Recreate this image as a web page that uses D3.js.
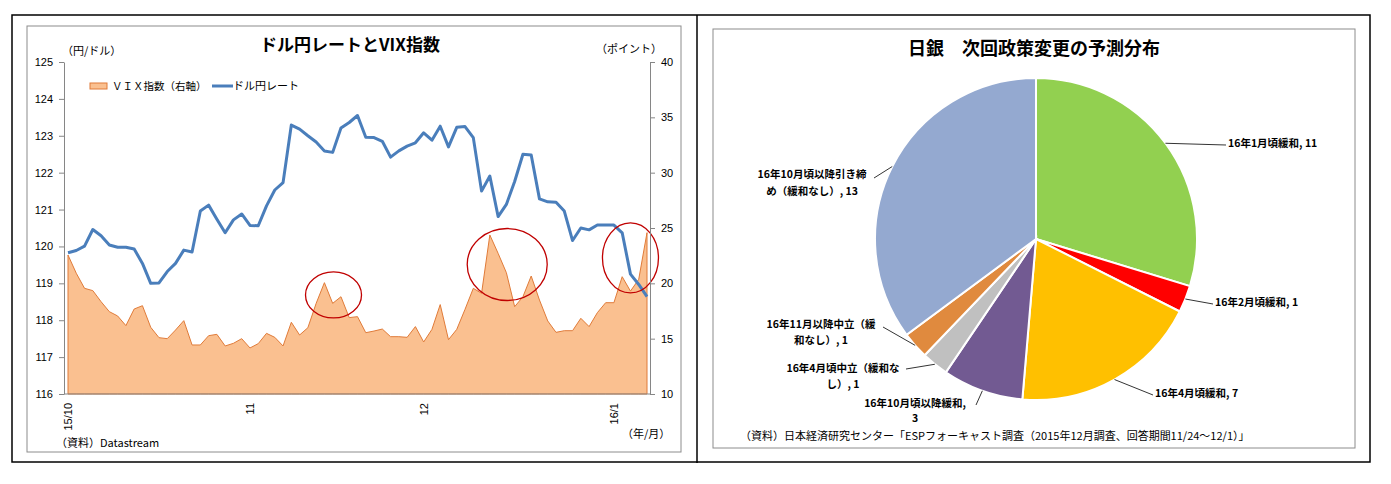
<!DOCTYPE html>
<html>
<head>
<meta charset="utf-8">
<script src="https://cdn.jsdelivr.net/npm/d3@7"></script>
<style>
  body { margin: 0; background: #fff; }
  svg { display: block; font-family: "Noto Sans CJK JP", "Noto Sans", sans-serif; }
</style>
</head>
<body>
<svg id="chart" width="1391" height="484"></svg>
<script>
// ---------------- data ----------------
// daily values, 2015/10/1 .. 2016/1/7 (business days)
const usdJpy = [119.83, 119.89, 120.01, 120.46, 120.29, 120.04, 119.98, 119.98, 119.93, 119.54,
                119.00, 119.01, 119.32, 119.54, 119.90, 119.85, 120.96, 121.12, 120.74, 120.37,
                120.72, 120.88, 120.57, 120.56, 121.10, 121.53, 121.73, 123.29, 123.18, 123.00,
                122.83, 122.59, 122.55, 123.21, 123.36, 123.55, 122.96, 122.95, 122.85, 122.42,
                122.59, 122.72, 122.81, 123.08, 122.88, 123.26, 122.70, 123.23, 123.25, 122.95,
                121.50, 121.91, 120.81, 121.14, 121.76, 122.50, 122.48, 121.29, 121.21, 121.20,
                120.96, 120.16, 120.50, 120.45, 120.58, 120.58, 120.58, 120.37, 119.25, 118.97, 118.64];
const vix = [22.56, 20.91, 19.55, 19.34, 18.34, 17.44, 17.05, 16.18, 17.68, 17.98,
             16.03, 15.09, 15.00, 15.78, 16.63, 14.43, 14.43, 15.27, 15.39, 14.34,
             14.58, 15.00, 14.16, 14.55, 15.48, 15.12, 14.34, 16.48, 15.33, 15.99,
             18.19, 20.06, 18.19, 18.79, 16.90, 16.99, 15.54, 15.69, 15.87, 15.18,
             15.18, 15.12, 16.09, 14.70, 15.84, 18.08, 14.91, 15.84, 17.65, 19.55,
             19.10, 24.37, 22.71, 20.96, 17.89, 18.79, 20.66, 18.49, 16.60, 15.57,
             15.72, 15.72, 16.84, 16.09, 17.35, 18.25, 18.25, 20.60, 19.30, 20.36, 24.58];
const tickIndex = [0, 22, 43, 66];
const tickLabels = ["15/10", "11", "12", "16/1"];
const yenTicks = [116, 117, 118, 119, 120, 121, 122, 123, 124, 125];
const vixTicks = [10, 15, 20, 25, 30, 35, 40];
// red circles: centre as (day index, VIX value)
const circleIndex = [32.1, 53.1, 68.0];
const circleVix = [18.95, 21.7, 22.3];

const pieLabels = ["16年1月頃緩和", "16年2月頃緩和", "16年4月頃緩和", "16年10月頃以降緩和",
                   "16年4月頃中立（緩和なし）", "16年11月以降中立（緩和なし）", "16年10月頃以降引き締め（緩和なし）"];
const pieValues = [11, 1, 7, 3, 1, 1, 13];
const pieColors = ["#92D050", "#FF0000", "#FFC000", "#725A92", "#C0C0C0", "#E08A3E", "#94A9D0"];

// ---------------- frame ----------------
const svg = d3.select("#chart");

svg.append("rect").attr("x", 12).attr("y", 15).attr("width", 1358).attr("height", 447)
    .attr("fill", "none").attr("stroke", "#000").attr("stroke-width", 1.5);
svg.append("line").attr("x1", 697).attr("x2", 697).attr("y1", 15).attr("y2", 463)
    .attr("stroke", "#000").attr("stroke-width", 1.5);
svg.append("rect").attr("x", 27).attr("y", 26).attr("width", 654).attr("height", 426)
    .attr("fill", "none").attr("stroke", "#8c8c8c");
svg.append("rect").attr("x", 713).attr("y", 29).attr("width", 642).attr("height", 419)
    .attr("fill", "none").attr("stroke", "#8c8c8c");

// ---------------- left: USD/JPY and VIX ----------------
const x = d3.scaleLinear().domain([0, usdJpy.length - 1]).range([68, 647]);
const yL = d3.scaleLinear().domain([116, 125]).range([394, 62]);
const yR = d3.scaleLinear().domain([10, 40]).range([394, 62]);

const left = svg.append("g");

const area = d3.area()
    .x((d, i) => x(i))
    .y0(yR(10))
    .y1(d => yR(d));
left.append("path")
    .datum(vix)
    .attr("d", area)
    .attr("fill", "#FAC090")
    .attr("stroke", "#E07B39")
    .attr("stroke-width", 1);

const line = d3.line()
    .x((d, i) => x(i))
    .y(d => yL(d));
left.append("path")
    .datum(usdJpy)
    .attr("d", line)
    .attr("fill", "none")
    .attr("stroke", "#4A7EBB")
    .attr("stroke-width", 3)
    .attr("stroke-linejoin", "round");

// red annotation circles
const circleSize = [[28, 23], [40, 36], [28, 35]];
left.selectAll("ellipse.mark")
    .data(circleIndex)
    .join("ellipse")
    .attr("class", "mark")
    .attr("cx", d => x(d))
    .attr("cy", (d, i) => yR(circleVix[i]))
    .attr("rx", (d, i) => circleSize[i][0])
    .attr("ry", (d, i) => circleSize[i][1])
    .attr("fill", "none")
    .attr("stroke", "#C00000")
    .attr("stroke-width", 1.3);

// axes
const axisColor = "#868686";
const gl = left.append("g")
    .attr("transform", "translate(64,0)")
    .call(d3.axisLeft(yL).tickValues(yenTicks).tickSize(5).tickSizeOuter(0).tickPadding(6));
const gr = left.append("g")
    .attr("transform", "translate(650,0)")
    .call(d3.axisRight(yR).tickValues(vixTicks).tickSize(5).tickSizeOuter(0).tickPadding(6));
[gl, gr].forEach(g => {
    g.select(".domain").attr("stroke", axisColor);
    g.selectAll(".tick line").attr("stroke", axisColor);
    g.selectAll(".tick text").attr("fill", "#000").style("font-size", "11px")
        .style("font-family", "'Liberation Sans', sans-serif");
});

left.append("line").attr("x1", 64).attr("x2", 650).attr("y1", 394).attr("y2", 394)
    .attr("stroke", axisColor);

const gb = left.append("g")
    .attr("transform", "translate(0,394)")
    .call(d3.axisBottom(x).tickValues(tickIndex).tickSize(0)
        .tickFormat((d, i) => tickLabels[i]));
gb.select(".domain").remove();
gb.selectAll(".tick text")
    .attr("fill", "#000")
    .style("font-size", "11px")
    .style("font-family", "'Liberation Sans', sans-serif")
    .attr("text-anchor", "end")
    .attr("y", 0)
    .attr("dy", "0.35em")
    .attr("transform", "translate(0,9) rotate(-90)");

// titles and notes
left.append("text").attr("x", 350).attr("y", 51).attr("text-anchor", "middle")
    .style("font-size", "17px").style("font-weight", "bold").text("ドル円レートとVIX指数");
left.append("text").attr("x", 62).attr("y", 55).style("font-size", "11px").text("（円/ドル）");
left.append("text").attr("x", 596).attr("y", 53).style("font-size", "11px").text("（ポイント）");
left.append("text").attr("x", 56).attr("y", 447).style("font-size", "11px").text("（資料）Datastream");
left.append("text").attr("x", 622).attr("y", 438).style("font-size", "11px").text("（年/月）");

// legend
left.append("rect").attr("x", 90).attr("y", 83).attr("width", 17).attr("height", 6)
    .attr("fill", "#FAC090").attr("stroke", "#E07B39");
left.append("text").attr("x", 112).attr("y", 90).style("font-size", "10.5px").text("ＶＩＸ指数（右軸）");
left.append("line").attr("x1", 212).attr("x2", 233).attr("y1", 86).attr("y2", 86)
    .attr("stroke", "#4A7EBB").attr("stroke-width", 3);
left.append("text").attr("x", 233).attr("y", 90).style("font-size", "11px").text("ドル円レート");

// ---------------- right: BOJ forecast pie ----------------
const cx = 1036, cy = 239, r = 161;
const right = svg.append("g");
right.append("text").attr("x", 1034).attr("y", 55).attr("text-anchor", "middle")
    .style("font-size", "18px").style("font-weight", "bold").text("日銀　次回政策変更の予測分布");

const pie = d3.pie().sort(null)(pieValues);
const arc = d3.arc().innerRadius(0).outerRadius(r);
const edge = d3.arc().innerRadius(r).outerRadius(r);

const pg = right.append("g").attr("transform", `translate(${cx},${cy})`);
pg.selectAll("path")
    .data(pie)
    .join("path")
    .attr("d", arc)
    .attr("fill", (d, i) => pieColors[i])
    .attr("stroke", "#fff")
    .attr("stroke-width", 2);

// label placement (page px): text x, line baselines, leader end
const labelLayout = [
    { anchor: "start",  x: 1228, ys: [147],      end: [1226, 145] },
    { anchor: "start",  x: 1215, ys: [306],      end: [1213, 304] },
    { anchor: "start",  x: 1155, ys: [397],      end: [1153, 395] },
    { anchor: "middle", x: 915,  ys: [407, 422], end: [976, 405], brk: 12 },
    { anchor: "middle", x: 843,  ys: [372, 388], end: [906, 369], brk: 12 },
    { anchor: "middle", x: 821,  ys: [328, 344], end: [883, 327], brk: 12 },
    { anchor: "middle", x: 812,  ys: [178, 195], end: [874, 178], brk: 12 }
];

pie.forEach((d, i) => {
    const lay = labelLayout[i];
    const txt = `${pieLabels[i]}, ${pieValues[i]}`;
    const lines = lay.brk ? [txt.slice(0, lay.brk), txt.slice(lay.brk).trim()] : [txt];
    const p = edge.centroid(d);
    right.append("line")
        .attr("x1", cx + p[0]).attr("y1", cy + p[1])
        .attr("x2", lay.end[0]).attr("y2", lay.end[1])
        .attr("stroke", "#000").attr("stroke-width", 0.8);
    lines.forEach((s, k) => {
        right.append("text")
            .attr("x", lay.x).attr("y", lay.ys[k])
            .attr("text-anchor", lay.anchor)
            .style("font-size", "10.5px").style("font-weight", "bold")
            .text(s);
    });
});

right.append("text").attr("x", 740).attr("y", 440).style("font-size", "11px")
    .text("（資料）日本経済研究センター「ESPフォーキャスト調査（2015年12月調査、回答期間11/24～12/1）」");
</script>
</body>
</html>
